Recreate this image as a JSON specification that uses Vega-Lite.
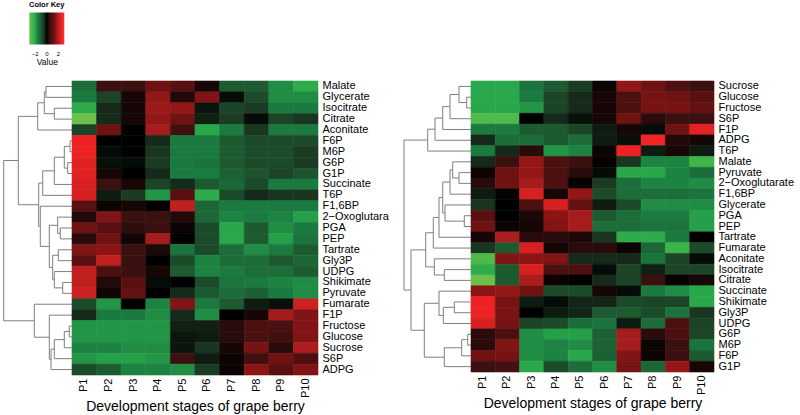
{
"$schema": "https://vega.github.io/schema/vega-lite/v6.json",
"padding": {"left": 2, "top": 0, "right": 0, "bottom": 0},
"background": "white",
"title": {"text": "Color Key", "anchor": "start", "dx": 27, "fontSize": 7.5, "fontWeight": "bold", "offset": 4, "font": "Liberation Sans", "color": "#000"},
"config": {"font": "Liberation Sans", "view": {"stroke": null}, "axis": {"labelColor": "#000", "titleColor": "#000"}, "legend": {"labelColor": "#000", "titleColor": "#000"}},
"datasets": {
"L": [
{"m":"Malate","s":"P1","v":-1.3},{"m":"Malate","s":"P2","v":0.5},{"m":"Malate","s":"P3","v":0.5},{"m":"Malate","s":"P4","v":1.2},{"m":"Malate","s":"P5","v":1.0},{"m":"Malate","s":"P6","v":0.2},{"m":"Malate","s":"P7","v":-1.0},{"m":"Malate","s":"P8","v":-1.0},{"m":"Malate","s":"P9","v":-1.7},{"m":"Malate","s":"P10","v":-2.1},
{"m":"Glycerate","s":"P1","v":-1.5},{"m":"Glycerate","s":"P2","v":-0.7},{"m":"Glycerate","s":"P3","v":0.2},{"m":"Glycerate","s":"P4","v":1.6},{"m":"Glycerate","s":"P5","v":0.3},{"m":"Glycerate","s":"P6","v":1.4},{"m":"Glycerate","s":"P7","v":-0.1},{"m":"Glycerate","s":"P8","v":-0.8},{"m":"Glycerate","s":"P9","v":-1.7},{"m":"Glycerate","s":"P10","v":-1.7},
{"m":"Isocitrate","s":"P1","v":-2.1},{"m":"Isocitrate","s":"P2","v":-0.4},{"m":"Isocitrate","s":"P3","v":0.2},{"m":"Isocitrate","s":"P4","v":1.7},{"m":"Isocitrate","s":"P5","v":1.6},{"m":"Isocitrate","s":"P6","v":-0.2},{"m":"Isocitrate","s":"P7","v":-0.7},{"m":"Isocitrate","s":"P8","v":-0.6},{"m":"Isocitrate","s":"P9","v":-1.5},{"m":"Isocitrate","s":"P10","v":-1.5},
{"m":"Citrate","s":"P1","v":-3.0},{"m":"Citrate","s":"P2","v":-0.4},{"m":"Citrate","s":"P3","v":0.2},{"m":"Citrate","s":"P4","v":1.6},{"m":"Citrate","s":"P5","v":1.2},{"m":"Citrate","s":"P6","v":-0.3},{"m":"Citrate","s":"P7","v":-0.6},{"m":"Citrate","s":"P8","v":-0.1},{"m":"Citrate","s":"P9","v":-0.7},{"m":"Citrate","s":"P10","v":-0.5},
{"m":"Aconitate","s":"P1","v":-0.7},{"m":"Aconitate","s":"P2","v":1.2},{"m":"Aconitate","s":"P3","v":0},{"m":"Aconitate","s":"P4","v":1.8},{"m":"Aconitate","s":"P5","v":0.6},{"m":"Aconitate","s":"P6","v":-2.0},{"m":"Aconitate","s":"P7","v":-1.5},{"m":"Aconitate","s":"P8","v":-0.5},{"m":"Aconitate","s":"P9","v":-1.5},{"m":"Aconitate","s":"P10","v":-1.5},
{"m":"F6P","s":"P1","v":2.5},{"m":"F6P","s":"P2","v":0},{"m":"F6P","s":"P3","v":0},{"m":"F6P","s":"P4","v":-0.4},{"m":"F6P","s":"P5","v":-1.5},{"m":"F6P","s":"P6","v":-1.5},{"m":"F6P","s":"P7","v":-1.0},{"m":"F6P","s":"P8","v":-0.8},{"m":"F6P","s":"P9","v":-0.8},{"m":"F6P","s":"P10","v":-0.8},
{"m":"M6P","s":"P1","v":2.5},{"m":"M6P","s":"P2","v":-0.1},{"m":"M6P","s":"P3","v":0},{"m":"M6P","s":"P4","v":-0.5},{"m":"M6P","s":"P5","v":-1.5},{"m":"M6P","s":"P6","v":-1.5},{"m":"M6P","s":"P7","v":-1.0},{"m":"M6P","s":"P8","v":-0.8},{"m":"M6P","s":"P9","v":-0.8},{"m":"M6P","s":"P10","v":-0.6},
{"m":"G6P","s":"P1","v":2.4},{"m":"G6P","s":"P2","v":-0.15},{"m":"G6P","s":"P3","v":-0.1},{"m":"G6P","s":"P4","v":-0.6},{"m":"G6P","s":"P5","v":-1.5},{"m":"G6P","s":"P6","v":-1.4},{"m":"G6P","s":"P7","v":-1.0},{"m":"G6P","s":"P8","v":-0.8},{"m":"G6P","s":"P9","v":-0.8},{"m":"G6P","s":"P10","v":-0.6},
{"m":"G1P","s":"P1","v":2.4},{"m":"G1P","s":"P2","v":0.2},{"m":"G1P","s":"P3","v":0},{"m":"G1P","s":"P4","v":-0.4},{"m":"G1P","s":"P5","v":-1.5},{"m":"G1P","s":"P6","v":-1.5},{"m":"G1P","s":"P7","v":-1.1},{"m":"G1P","s":"P8","v":-0.9},{"m":"G1P","s":"P9","v":-0.7},{"m":"G1P","s":"P10","v":-0.9},
{"m":"Succinate","s":"P1","v":2.3},{"m":"Succinate","s":"P2","v":0.5},{"m":"Succinate","s":"P3","v":0.2},{"m":"Succinate","s":"P4","v":-0.7},{"m":"Succinate","s":"P5","v":-0.4},{"m":"Succinate","s":"P6","v":-1.0},{"m":"Succinate","s":"P7","v":-1.2},{"m":"Succinate","s":"P8","v":-0.8},{"m":"Succinate","s":"P9","v":-1.5},{"m":"Succinate","s":"P10","v":-1.5},
{"m":"T6P","s":"P1","v":2.3},{"m":"T6P","s":"P2","v":-0.25},{"m":"T6P","s":"P3","v":-0.6},{"m":"T6P","s":"P4","v":-1.8},{"m":"T6P","s":"P5","v":1.0},{"m":"T6P","s":"P6","v":-2.1},{"m":"T6P","s":"P7","v":-0.8},{"m":"T6P","s":"P8","v":-0.4},{"m":"T6P","s":"P9","v":-0.5},{"m":"T6P","s":"P10","v":-0.5},
{"m":"F1,6BP","s":"P1","v":1.0},{"m":"F1,6BP","s":"P2","v":0.1},{"m":"F1,6BP","s":"P3","v":0.2},{"m":"F1,6BP","s":"P4","v":0},{"m":"F1,6BP","s":"P5","v":2.1},{"m":"F1,6BP","s":"P6","v":-1.2},{"m":"F1,6BP","s":"P7","v":-1.5},{"m":"F1,6BP","s":"P8","v":-1.5},{"m":"F1,6BP","s":"P9","v":-1.5},{"m":"F1,6BP","s":"P10","v":-1.5},
{"m":"2−Oxoglutarate","s":"P1","v":0.3},{"m":"2−Oxoglutarate","s":"P2","v":1.4},{"m":"2−Oxoglutarate","s":"P3","v":0.5},{"m":"2−Oxoglutarate","s":"P4","v":0.5},{"m":"2−Oxoglutarate","s":"P5","v":0.3},{"m":"2−Oxoglutarate","s":"P6","v":-1.2},{"m":"2−Oxoglutarate","s":"P7","v":-1.6},{"m":"2−Oxoglutarate","s":"P8","v":-1.5},{"m":"2−Oxoglutarate","s":"P9","v":-1.6},{"m":"2−Oxoglutarate","s":"P10","v":-1.9},
{"m":"PGA","s":"P1","v":1.2},{"m":"PGA","s":"P2","v":1.0},{"m":"PGA","s":"P3","v":0.4},{"m":"PGA","s":"P4","v":0.5},{"m":"PGA","s":"P5","v":0.1},{"m":"PGA","s":"P6","v":-0.8},{"m":"PGA","s":"P7","v":-2.0},{"m":"PGA","s":"P8","v":-1.0},{"m":"PGA","s":"P9","v":-1.7},{"m":"PGA","s":"P10","v":-1.5},
{"m":"PEP","s":"P1","v":0.35},{"m":"PEP","s":"P2","v":1.2},{"m":"PEP","s":"P3","v":0.15},{"m":"PEP","s":"P4","v":1.8},{"m":"PEP","s":"P5","v":0},{"m":"PEP","s":"P6","v":-0.8},{"m":"PEP","s":"P7","v":-2.0},{"m":"PEP","s":"P8","v":-1.0},{"m":"PEP","s":"P9","v":-1.9},{"m":"PEP","s":"P10","v":-1.4},
{"m":"Tartrate","s":"P1","v":1.4},{"m":"Tartrate","s":"P2","v":1.5},{"m":"Tartrate","s":"P3","v":0.5},{"m":"Tartrate","s":"P4","v":0.25},{"m":"Tartrate","s":"P5","v":-1.4},{"m":"Tartrate","s":"P6","v":-0.8},{"m":"Tartrate","s":"P7","v":-1.3},{"m":"Tartrate","s":"P8","v":-1.7},{"m":"Tartrate","s":"P9","v":-1.5},{"m":"Tartrate","s":"P10","v":-1.0},
{"m":"Gly3P","s":"P1","v":1.0},{"m":"Gly3P","s":"P2","v":2.1},{"m":"Gly3P","s":"P3","v":0.5},{"m":"Gly3P","s":"P4","v":0},{"m":"Gly3P","s":"P5","v":-0.8},{"m":"Gly3P","s":"P6","v":-1.6},{"m":"Gly3P","s":"P7","v":-1.3},{"m":"Gly3P","s":"P8","v":-1.3},{"m":"Gly3P","s":"P9","v":-1.0},{"m":"Gly3P","s":"P10","v":-1.2},
{"m":"UDPG","s":"P1","v":2.1},{"m":"UDPG","s":"P2","v":0.8},{"m":"UDPG","s":"P3","v":0.5},{"m":"UDPG","s":"P4","v":0.2},{"m":"UDPG","s":"P5","v":-1.0},{"m":"UDPG","s":"P6","v":-1.6},{"m":"UDPG","s":"P7","v":-1.5},{"m":"UDPG","s":"P8","v":-1.3},{"m":"UDPG","s":"P9","v":-1.3},{"m":"UDPG","s":"P10","v":-1.0},
{"m":"Shikimate","s":"P1","v":2.1},{"m":"Shikimate","s":"P2","v":0.3},{"m":"Shikimate","s":"P3","v":1.0},{"m":"Shikimate","s":"P4","v":-0.1},{"m":"Shikimate","s":"P5","v":0},{"m":"Shikimate","s":"P6","v":-0.8},{"m":"Shikimate","s":"P7","v":-1.4},{"m":"Shikimate","s":"P8","v":-1.5},{"m":"Shikimate","s":"P9","v":-1.6},{"m":"Shikimate","s":"P10","v":-1.7},
{"m":"Pyruvate","s":"P1","v":2.2},{"m":"Pyruvate","s":"P2","v":0.15},{"m":"Pyruvate","s":"P3","v":1.1},{"m":"Pyruvate","s":"P4","v":0},{"m":"Pyruvate","s":"P5","v":-0.4},{"m":"Pyruvate","s":"P6","v":-1.0},{"m":"Pyruvate","s":"P7","v":-1.3},{"m":"Pyruvate","s":"P8","v":-1.1},{"m":"Pyruvate","s":"P9","v":-1.5},{"m":"Pyruvate","s":"P10","v":-1.7},
{"m":"Fumarate","s":"P1","v":-0.8},{"m":"Fumarate","s":"P2","v":-1.8},{"m":"Fumarate","s":"P3","v":0},{"m":"Fumarate","s":"P4","v":-1.6},{"m":"Fumarate","s":"P5","v":1.4},{"m":"Fumarate","s":"P6","v":-1.5},{"m":"Fumarate","s":"P7","v":-1.0},{"m":"Fumarate","s":"P8","v":-0.25},{"m":"Fumarate","s":"P9","v":-0.15},{"m":"Fumarate","s":"P10","v":2.2},
{"m":"F1P","s":"P1","v":-0.4},{"m":"F1P","s":"P2","v":-1.5},{"m":"F1P","s":"P3","v":-1.5},{"m":"F1P","s":"P4","v":-1.7},{"m":"F1P","s":"P5","v":-0.4},{"m":"F1P","s":"P6","v":-1.7},{"m":"F1P","s":"P7","v":0},{"m":"F1P","s":"P8","v":0.2},{"m":"F1P","s":"P9","v":1.8},{"m":"F1P","s":"P10","v":1.4},
{"m":"Fructose","s":"P1","v":-1.8},{"m":"Fructose","s":"P2","v":-1.8},{"m":"Fructose","s":"P3","v":-1.8},{"m":"Fructose","s":"P4","v":-1.8},{"m":"Fructose","s":"P5","v":-0.3},{"m":"Fructose","s":"P6","v":-0.3},{"m":"Fructose","s":"P7","v":0.35},{"m":"Fructose","s":"P8","v":0.8},{"m":"Fructose","s":"P9","v":0.8},{"m":"Fructose","s":"P10","v":1.4},
{"m":"Glucose","s":"P1","v":-1.8},{"m":"Glucose","s":"P2","v":-1.8},{"m":"Glucose","s":"P3","v":-1.8},{"m":"Glucose","s":"P4","v":-1.8},{"m":"Glucose","s":"P5","v":-0.2},{"m":"Glucose","s":"P6","v":-0.25},{"m":"Glucose","s":"P7","v":0.35},{"m":"Glucose","s":"P8","v":0.8},{"m":"Glucose","s":"P9","v":0.6},{"m":"Glucose","s":"P10","v":1.4},
{"m":"Sucrose","s":"P1","v":-1.6},{"m":"Sucrose","s":"P2","v":-1.6},{"m":"Sucrose","s":"P3","v":-1.7},{"m":"Sucrose","s":"P4","v":-1.7},{"m":"Sucrose","s":"P5","v":-0.2},{"m":"Sucrose","s":"P6","v":-0.5},{"m":"Sucrose","s":"P7","v":0.2},{"m":"Sucrose","s":"P8","v":1.3},{"m":"Sucrose","s":"P9","v":0.35},{"m":"Sucrose","s":"P10","v":1.9},
{"m":"S6P","s":"P1","v":-1.8},{"m":"S6P","s":"P2","v":-1.9},{"m":"S6P","s":"P3","v":-1.9},{"m":"S6P","s":"P4","v":-1.8},{"m":"S6P","s":"P5","v":0.5},{"m":"S6P","s":"P6","v":-0.25},{"m":"S6P","s":"P7","v":0.1},{"m":"S6P","s":"P8","v":0.6},{"m":"S6P","s":"P9","v":1.2},{"m":"S6P","s":"P10","v":0.8},
{"m":"ADPG","s":"P1","v":-0.8},{"m":"ADPG","s":"P2","v":-1.0},{"m":"ADPG","s":"P3","v":-1.6},{"m":"ADPG","s":"P4","v":-1.6},{"m":"ADPG","s":"P5","v":-1.7},{"m":"ADPG","s":"P6","v":-0.6},{"m":"ADPG","s":"P7","v":0.1},{"m":"ADPG","s":"P8","v":1.5},{"m":"ADPG","s":"P9","v":1.0},{"m":"ADPG","s":"P10","v":1.4}
],
"R": [
{"m":"Sucrose","s":"P1","v":-2.0},{"m":"Sucrose","s":"P2","v":-2.0},{"m":"Sucrose","s":"P3","v":-1.4},{"m":"Sucrose","s":"P4","v":-1.0},{"m":"Sucrose","s":"P5","v":-0.6},{"m":"Sucrose","s":"P6","v":0.1},{"m":"Sucrose","s":"P7","v":1.6},{"m":"Sucrose","s":"P8","v":1.2},{"m":"Sucrose","s":"P9","v":0.8},{"m":"Sucrose","s":"P10","v":0.55},
{"m":"Glucose","s":"P1","v":-2.0},{"m":"Glucose","s":"P2","v":-2.0},{"m":"Glucose","s":"P3","v":-1.5},{"m":"Glucose","s":"P4","v":-0.7},{"m":"Glucose","s":"P5","v":-0.4},{"m":"Glucose","s":"P6","v":0.2},{"m":"Glucose","s":"P7","v":0.8},{"m":"Glucose","s":"P8","v":1.3},{"m":"Glucose","s":"P9","v":1.2},{"m":"Glucose","s":"P10","v":1.0},
{"m":"Fructose","s":"P1","v":-2.0},{"m":"Fructose","s":"P2","v":-2.0},{"m":"Fructose","s":"P3","v":-1.8},{"m":"Fructose","s":"P4","v":-0.7},{"m":"Fructose","s":"P5","v":-0.4},{"m":"Fructose","s":"P6","v":0.2},{"m":"Fructose","s":"P7","v":0.8},{"m":"Fructose","s":"P8","v":1.3},{"m":"Fructose","s":"P9","v":1.3},{"m":"Fructose","s":"P10","v":1.1},
{"m":"S6P","s":"P1","v":-2.6},{"m":"S6P","s":"P2","v":-2.6},{"m":"S6P","s":"P3","v":0},{"m":"S6P","s":"P4","v":-0.4},{"m":"S6P","s":"P5","v":-0.15},{"m":"S6P","s":"P6","v":0.2},{"m":"S6P","s":"P7","v":1.2},{"m":"S6P","s":"P8","v":0.35},{"m":"S6P","s":"P9","v":0.5},{"m":"S6P","s":"P10","v":0.5},
{"m":"F1P","s":"P1","v":-1.5},{"m":"F1P","s":"P2","v":-1.5},{"m":"F1P","s":"P3","v":-1.0},{"m":"F1P","s":"P4","v":-1.0},{"m":"F1P","s":"P5","v":-0.7},{"m":"F1P","s":"P6","v":-0.25},{"m":"F1P","s":"P7","v":0.2},{"m":"F1P","s":"P8","v":-0.1},{"m":"F1P","s":"P9","v":1.2},{"m":"F1P","s":"P10","v":2.4},
{"m":"ADPG","s":"P1","v":-0.4},{"m":"ADPG","s":"P2","v":-1.3},{"m":"ADPG","s":"P3","v":-1.3},{"m":"ADPG","s":"P4","v":-1.0},{"m":"ADPG","s":"P5","v":-1.3},{"m":"ADPG","s":"P6","v":-0.25},{"m":"ADPG","s":"P7","v":-0.15},{"m":"ADPG","s":"P8","v":2.6},{"m":"ADPG","s":"P9","v":0.3},{"m":"ADPG","s":"P10","v":0.2},
{"m":"T6P","s":"P1","v":-1.5},{"m":"T6P","s":"P2","v":-0.4},{"m":"T6P","s":"P3","v":0.35},{"m":"T6P","s":"P4","v":-1.8},{"m":"T6P","s":"P5","v":-1.6},{"m":"T6P","s":"P6","v":0.1},{"m":"T6P","s":"P7","v":2.5},{"m":"T6P","s":"P8","v":-0.25},{"m":"T6P","s":"P9","v":0.2},{"m":"T6P","s":"P10","v":-0.25},
{"m":"Malate","s":"P1","v":-0.4},{"m":"Malate","s":"P2","v":0.55},{"m":"Malate","s":"P3","v":1.6},{"m":"Malate","s":"P4","v":0.8},{"m":"Malate","s":"P5","v":0.55},{"m":"Malate","s":"P6","v":0.05},{"m":"Malate","s":"P7","v":-0.5},{"m":"Malate","s":"P8","v":-1.6},{"m":"Malate","s":"P9","v":-1.6},{"m":"Malate","s":"P10","v":-2.4},
{"m":"Pyruvate","s":"P1","v":0.1},{"m":"Pyruvate","s":"P2","v":1.2},{"m":"Pyruvate","s":"P3","v":1.6},{"m":"Pyruvate","s":"P4","v":0.8},{"m":"Pyruvate","s":"P5","v":0.35},{"m":"Pyruvate","s":"P6","v":-0.1},{"m":"Pyruvate","s":"P7","v":-2.0},{"m":"Pyruvate","s":"P8","v":-2.0},{"m":"Pyruvate","s":"P9","v":-1.6},{"m":"Pyruvate","s":"P10","v":-1.3},
{"m":"2−Oxoglutarate","s":"P1","v":0.35},{"m":"2−Oxoglutarate","s":"P2","v":1.2},{"m":"2−Oxoglutarate","s":"P3","v":1.8},{"m":"2−Oxoglutarate","s":"P4","v":0.8},{"m":"2−Oxoglutarate","s":"P5","v":0.05},{"m":"2−Oxoglutarate","s":"P6","v":-0.6},{"m":"2−Oxoglutarate","s":"P7","v":-1.3},{"m":"2−Oxoglutarate","s":"P8","v":-1.6},{"m":"2−Oxoglutarate","s":"P9","v":-1.6},{"m":"2−Oxoglutarate","s":"P10","v":-1.7},
{"m":"F1,6BP","s":"P1","v":-0.25},{"m":"F1,6BP","s":"P2","v":0.05},{"m":"F1,6BP","s":"P3","v":2.3},{"m":"F1,6BP","s":"P4","v":0.2},{"m":"F1,6BP","s":"P5","v":1.6},{"m":"F1,6BP","s":"P6","v":-0.8},{"m":"F1,6BP","s":"P7","v":-1.3},{"m":"F1,6BP","s":"P8","v":-1.3},{"m":"F1,6BP","s":"P9","v":-1.3},{"m":"F1,6BP","s":"P10","v":-1.4},
{"m":"Glycerate","s":"P1","v":-0.5},{"m":"Glycerate","s":"P2","v":0},{"m":"Glycerate","s":"P3","v":0.8},{"m":"Glycerate","s":"P4","v":2.3},{"m":"Glycerate","s":"P5","v":1.1},{"m":"Glycerate","s":"P6","v":-0.25},{"m":"Glycerate","s":"P7","v":-0.8},{"m":"Glycerate","s":"P8","v":-1.7},{"m":"Glycerate","s":"P9","v":-1.7},{"m":"Glycerate","s":"P10","v":-1.7},
{"m":"PGA","s":"P1","v":1.0},{"m":"PGA","s":"P2","v":0},{"m":"PGA","s":"P3","v":0.25},{"m":"PGA","s":"P4","v":1.5},{"m":"PGA","s":"P5","v":1.8},{"m":"PGA","s":"P6","v":-1.0},{"m":"PGA","s":"P7","v":-1.3},{"m":"PGA","s":"P8","v":-1.5},{"m":"PGA","s":"P9","v":-1.5},{"m":"PGA","s":"P10","v":-1.9},
{"m":"PEP","s":"P1","v":1.2},{"m":"PEP","s":"P2","v":0.1},{"m":"PEP","s":"P3","v":0.2},{"m":"PEP","s":"P4","v":1.4},{"m":"PEP","s":"P5","v":1.8},{"m":"PEP","s":"P6","v":-1.3},{"m":"PEP","s":"P7","v":-1.3},{"m":"PEP","s":"P8","v":-1.4},{"m":"PEP","s":"P9","v":-1.4},{"m":"PEP","s":"P10","v":-1.9},
{"m":"Tartrate","s":"P1","v":0.2},{"m":"Tartrate","s":"P2","v":1.9},{"m":"Tartrate","s":"P3","v":0.35},{"m":"Tartrate","s":"P4","v":0.35},{"m":"Tartrate","s":"P5","v":0.25},{"m":"Tartrate","s":"P6","v":-0.5},{"m":"Tartrate","s":"P7","v":-2.1},{"m":"Tartrate","s":"P8","v":-2.1},{"m":"Tartrate","s":"P9","v":-1.5},{"m":"Tartrate","s":"P10","v":0},
{"m":"Fumarate","s":"P1","v":-0.5},{"m":"Fumarate","s":"P2","v":-1.0},{"m":"Fumarate","s":"P3","v":2.3},{"m":"Fumarate","s":"P4","v":0.2},{"m":"Fumarate","s":"P5","v":0.35},{"m":"Fumarate","s":"P6","v":0.35},{"m":"Fumarate","s":"P7","v":0.1},{"m":"Fumarate","s":"P8","v":-1.2},{"m":"Fumarate","s":"P9","v":-2.3},{"m":"Fumarate","s":"P10","v":-0.8},
{"m":"Aconitate","s":"P1","v":-2.6},{"m":"Aconitate","s":"P2","v":1.4},{"m":"Aconitate","s":"P3","v":1.5},{"m":"Aconitate","s":"P4","v":1.4},{"m":"Aconitate","s":"P5","v":-0.4},{"m":"Aconitate","s":"P6","v":-0.4},{"m":"Aconitate","s":"P7","v":-0.4},{"m":"Aconitate","s":"P8","v":-1.4},{"m":"Aconitate","s":"P9","v":-0.7},{"m":"Aconitate","s":"P10","v":-0.1},
{"m":"Isocitrate","s":"P1","v":-2.1},{"m":"Isocitrate","s":"P2","v":-1.0},{"m":"Isocitrate","s":"P3","v":2.3},{"m":"Isocitrate","s":"P4","v":0.8},{"m":"Isocitrate","s":"P5","v":0.8},{"m":"Isocitrate","s":"P6","v":-0.1},{"m":"Isocitrate","s":"P7","v":-0.7},{"m":"Isocitrate","s":"P8","v":-0.3},{"m":"Isocitrate","s":"P9","v":-0.7},{"m":"Isocitrate","s":"P10","v":-0.7},
{"m":"Citrate","s":"P1","v":-3.0},{"m":"Citrate","s":"P2","v":-1.0},{"m":"Citrate","s":"P3","v":1.9},{"m":"Citrate","s":"P4","v":0.1},{"m":"Citrate","s":"P5","v":0},{"m":"Citrate","s":"P6","v":-0.4},{"m":"Citrate","s":"P7","v":-0.7},{"m":"Citrate","s":"P8","v":0.5},{"m":"Citrate","s":"P9","v":0.05},{"m":"Citrate","s":"P10","v":0.2},
{"m":"Succinate","s":"P1","v":1.5},{"m":"Succinate","s":"P2","v":1.6},{"m":"Succinate","s":"P3","v":1.2},{"m":"Succinate","s":"P4","v":-0.8},{"m":"Succinate","s":"P5","v":-0.8},{"m":"Succinate","s":"P6","v":0.2},{"m":"Succinate","s":"P7","v":-0.1},{"m":"Succinate","s":"P8","v":-1.5},{"m":"Succinate","s":"P9","v":-1.7},{"m":"Succinate","s":"P10","v":-2.0},
{"m":"Shikimate","s":"P1","v":2.5},{"m":"Shikimate","s":"P2","v":1.3},{"m":"Shikimate","s":"P3","v":-0.25},{"m":"Shikimate","s":"P4","v":-0.1},{"m":"Shikimate","s":"P5","v":-0.35},{"m":"Shikimate","s":"P6","v":-0.35},{"m":"Shikimate","s":"P7","v":-0.8},{"m":"Shikimate","s":"P8","v":-0.7},{"m":"Shikimate","s":"P9","v":-0.7},{"m":"Shikimate","s":"P10","v":-2.0},
{"m":"Gly3P","s":"P1","v":2.5},{"m":"Gly3P","s":"P2","v":1.3},{"m":"Gly3P","s":"P3","v":0},{"m":"Gly3P","s":"P4","v":-0.25},{"m":"Gly3P","s":"P5","v":-0.35},{"m":"Gly3P","s":"P6","v":-1.0},{"m":"Gly3P","s":"P7","v":-1.0},{"m":"Gly3P","s":"P8","v":-0.8},{"m":"Gly3P","s":"P9","v":-1.4},{"m":"Gly3P","s":"P10","v":-0.5},
{"m":"UDPG","s":"P1","v":2.3},{"m":"UDPG","s":"P2","v":1.3},{"m":"UDPG","s":"P3","v":-0.7},{"m":"UDPG","s":"P4","v":-0.8},{"m":"UDPG","s":"P5","v":-1.3},{"m":"UDPG","s":"P6","v":-1.4},{"m":"UDPG","s":"P7","v":-0.25},{"m":"UDPG","s":"P8","v":-1.3},{"m":"UDPG","s":"P9","v":0.8},{"m":"UDPG","s":"P10","v":-0.7},
{"m":"G6P","s":"P1","v":0.35},{"m":"G6P","s":"P2","v":0.8},{"m":"G6P","s":"P3","v":-1.7},{"m":"G6P","s":"P4","v":-1.9},{"m":"G6P","s":"P5","v":-1.9},{"m":"G6P","s":"P6","v":-1.1},{"m":"G6P","s":"P7","v":1.8},{"m":"G6P","s":"P8","v":0.35},{"m":"G6P","s":"P9","v":0.8},{"m":"G6P","s":"P10","v":-0.7},
{"m":"M6P","s":"P1","v":0.35},{"m":"M6P","s":"P2","v":1.4},{"m":"M6P","s":"P3","v":-1.7},{"m":"M6P","s":"P4","v":-1.6},{"m":"M6P","s":"P5","v":-1.7},{"m":"M6P","s":"P6","v":-1.1},{"m":"M6P","s":"P7","v":1.8},{"m":"M6P","s":"P8","v":0.1},{"m":"M6P","s":"P9","v":0.5},{"m":"M6P","s":"P10","v":-1.4},
{"m":"F6P","s":"P1","v":1.2},{"m":"F6P","s":"P2","v":1.3},{"m":"F6P","s":"P3","v":-1.7},{"m":"F6P","s":"P4","v":-1.6},{"m":"F6P","s":"P5","v":-2.0},{"m":"F6P","s":"P6","v":-1.1},{"m":"F6P","s":"P7","v":1.4},{"m":"F6P","s":"P8","v":0.1},{"m":"F6P","s":"P9","v":0.55},{"m":"F6P","s":"P10","v":-1.0},
{"m":"G1P","s":"P1","v":0.5},{"m":"G1P","s":"P2","v":0.7},{"m":"G1P","s":"P3","v":-2.0},{"m":"G1P","s":"P4","v":-0.8},{"m":"G1P","s":"P5","v":-1.3},{"m":"G1P","s":"P6","v":-1.7},{"m":"G1P","s":"P7","v":1.3},{"m":"G1P","s":"P8","v":-1.2},{"m":"G1P","s":"P9","v":1.6},{"m":"G1P","s":"P10","v":0.2}
],
"dL": [
{"h":26,"ya":0,"ha":0,"yb":1,"hb":0},
{"h":17.7,"ya":2,"ha":0,"yb":3,"hb":0},
{"h":27.7,"ya":0.5,"ha":26,"yb":2.5,"hb":17.7},
{"h":34.3,"ya":1.5,"ha":27.7,"yb":4,"hb":0},
{"h":2,"ya":5,"ha":0,"yb":6,"hb":0},
{"h":4.3,"ya":7,"ha":0,"yb":8,"hb":0},
{"h":7.7,"ya":5.5,"ha":2,"yb":7.5,"hb":4.3},
{"h":17.7,"ya":6.5,"ha":7.7,"yb":9,"hb":0},
{"h":29.3,"ya":7.75,"ha":17.7,"yb":10,"hb":0},
{"h":11.7,"ya":13,"ha":0,"yb":14,"hb":0},
{"h":14.3,"ya":12,"ha":0,"yb":13.5,"hb":11.7},
{"h":13.7,"ya":15,"ha":0,"yb":16,"hb":0},
{"h":9.3,"ya":18,"ha":0,"yb":19,"hb":0},
{"h":17.7,"ya":17,"ha":0,"yb":18.5,"hb":9.3},
{"h":19.3,"ya":15.5,"ha":13.7,"yb":17.75,"hb":17.7},
{"h":22.7,"ya":12.75,"ha":14.3,"yb":16.625,"hb":19.3},
{"h":31.7,"ya":11,"ha":0,"yb":14.69,"hb":22.7},
{"h":33.3,"ya":8.875,"ha":29.3,"yb":12.84,"hb":31.7},
{"h":53.7,"ya":2.75,"ha":34.3,"yb":10.86,"hb":33.3},
{"h":2.7,"ya":22,"ha":0,"yb":23,"hb":0},
{"h":7.7,"ya":22.5,"ha":2.7,"yb":24,"hb":0},
{"h":17.7,"ya":23.25,"ha":7.7,"yb":25,"hb":0},
{"h":21,"ya":24.125,"ha":17.7,"yb":26,"hb":0},
{"h":22.7,"ya":21,"ha":0,"yb":25.06,"hb":21},
{"h":37.7,"ya":20,"ha":0,"yb":23.03,"hb":22.7},
{"h":68.3,"ya":6.8,"ha":53.7,"yb":21.52,"hb":37.7}
],
"dR": [
{"h":4.3,"ya":1,"ha":0,"yb":2,"hb":0},
{"h":12,"ya":0,"ha":0,"yb":1.5,"hb":4.3},
{"h":21,"ya":0.75,"ha":12,"yb":3,"hb":0},
{"h":28.3,"ya":1.875,"ha":21,"yb":4,"hb":0},
{"h":36,"ya":2.94,"ha":28.3,"yb":5,"hb":0},
{"h":43.3,"ya":3.97,"ha":36,"yb":6,"hb":0},
{"h":12,"ya":8,"ha":0,"yb":9,"hb":0},
{"h":18.3,"ya":7,"ha":0,"yb":8.5,"hb":12},
{"h":21,"ya":7.75,"ha":18.3,"yb":10,"hb":0},
{"h":6.7,"ya":12,"ha":0,"yb":13,"hb":0},
{"h":26,"ya":11,"ha":0,"yb":12.5,"hb":6.7},
{"h":28.3,"ya":8.875,"ha":21,"yb":11.75,"hb":26},
{"h":32,"ya":10.31,"ha":28.3,"yb":14,"hb":0},
{"h":37.7,"ya":12.16,"ha":32,"yb":15,"hb":0},
{"h":26.7,"ya":17,"ha":0,"yb":18,"hb":0},
{"h":36.7,"ya":16,"ha":0,"yb":17.5,"hb":26.7},
{"h":45.3,"ya":13.58,"ha":37.7,"yb":16.75,"hb":36.7},
{"h":16.7,"ya":20,"ha":0,"yb":21,"hb":0},
{"h":27.7,"ya":20.5,"ha":16.7,"yb":22,"hb":0},
{"h":32,"ya":19,"ha":0,"yb":21.25,"hb":27.7},
{"h":3.3,"ya":23,"ha":0,"yb":24,"hb":0},
{"h":9.3,"ya":23.5,"ha":3.3,"yb":25,"hb":0},
{"h":26.7,"ya":24.25,"ha":9.3,"yb":26,"hb":0},
{"h":46.7,"ya":20.125,"ha":32,"yb":25.125,"hb":26.7},
{"h":60,"ya":15.17,"ha":45.3,"yb":22.625,"hb":46.7},
{"h":67,"ya":4.98,"ha":43.3,"yb":18.9,"hb":60}
]
},
"bounds": "flush",
"spacing": 0,
"resolve": {"scale": {"color": "shared", "stroke": "shared"}, "legend": {"color": "shared", "stroke": "independent"}},
"hconcat": [
{
"width": 70, "height": 294,
"data": {"name": "dL"},
"layer": [
{"mark": {"type": "rule", "color": "#7f7f7f", "strokeWidth": 1},
 "encoding": {"x": {"field": "h", "type": "quantitative", "scale": {"domain": [70, 0], "nice": false, "zero": false}, "axis": null},
  "y": {"field": "ya", "type": "quantitative", "scale": {"domain": [-0.5, 26.5], "reverse": true, "nice": false, "zero": false}, "axis": null},
  "y2": {"field": "yb"}}},
{"mark": {"type": "rule", "color": "#7f7f7f", "strokeWidth": 1},
 "encoding": {"x": {"field": "h", "type": "quantitative"}, "x2": {"field": "ha"},
  "y": {"field": "ya", "type": "quantitative"}}},
{"mark": {"type": "rule", "color": "#7f7f7f", "strokeWidth": 1},
 "encoding": {"x": {"field": "h", "type": "quantitative"}, "x2": {"field": "hb"},
  "y": {"field": "yb", "type": "quantitative"}}}
]
},
{
"width": 246, "height": 294,
"data": {"name": "L"},
"mark": {"type": "rect", "strokeWidth": 0.6},
"encoding": {
 "x": {"field": "s", "type": "nominal", "sort": ["P1","P2","P3","P4","P5","P6","P7","P8","P9","P10"], "scale": {"paddingInner": 0, "paddingOuter": 0},
  "axis": {"title": "Development stages of grape berry", "labelAngle": 270, "ticks": false, "domain": false, "labelFontSize": 11, "titleFontSize": 14, "titleFontWeight": "normal", "labelPadding": 3, "titlePadding": 2}},
 "y": {"field": "m", "type": "nominal", "sort": ["Malate","Glycerate","Isocitrate","Citrate","Aconitate","F6P","M6P","G6P","G1P","Succinate","T6P","F1,6BP","2−Oxoglutarate","PGA","PEP","Tartrate","Gly3P","UDPG","Shikimate","Pyruvate","Fumarate","F1P","Fructose","Glucose","Sucrose","S6P","ADPG"],
  "scale": {"paddingInner": 0, "paddingOuter": 0},
  "axis": {"orient": "right", "title": null, "ticks": false, "domain": false, "labelFontSize": 11, "labelPadding": 4, "labelExpr": "datum.label == '2−Oxoglutarate' ? '2−Oxoglutara' : datum.label"}},
 "color": {"field": "v", "type": "quantitative",
  "scale": {"type": "linear", "interpolate": "rgb", "domain": [-3,-2.5,-2,-1.5,-1,-0.5,0,0.5,1,1.5,2,2.5,3], "range": ["#6cc04a","#48b84a","#28a84a","#1a7a40","#1e5a30","#1a3520","#000000","#3a1010","#5a1010","#8b1515","#b42020","#ee2222","#ff3030"]},
  "legend": {"type": "gradient", "orient": "none", "legendX": 27.3, "legendY": -68.6, "direction": "horizontal", "gradientLength": 35, "gradientThickness": 32, "title": "Value", "titleOrient": "bottom", "titleAnchor": "middle", "titleFontSize": 8.5, "titleFontWeight": "normal", "labelFontSize": 6, "values": [-2, 0, 2], "labelOffset": 7, "titlePadding": 1}},
 "stroke": {"field": "v", "type": "quantitative", "legend": null,
  "scale": {"type": "linear", "interpolate": "rgb", "domain": [-3,-2.5,-2,-1.5,-1,-0.5,0,0.5,1,1.5,2,2.5,3], "range": ["#6cc04a","#48b84a","#28a84a","#1a7a40","#1e5a30","#1a3520","#000000","#3a1010","#5a1010","#8b1515","#b42020","#ee2222","#ff3030"]}}
}
},
{
"width": 153, "height": 291,
"data": {"name": "dR"},
"layer": [
{"mark": {"type": "rule", "color": "#7f7f7f", "strokeWidth": 1},
 "encoding": {"x": {"field": "h", "type": "quantitative", "scale": {"domain": [153, 0], "nice": false, "zero": false}, "axis": null},
  "y": {"field": "ya", "type": "quantitative", "scale": {"domain": [-0.5, 26.5], "reverse": true, "nice": false, "zero": false}, "axis": null},
  "y2": {"field": "yb"}}},
{"mark": {"type": "rule", "color": "#7f7f7f", "strokeWidth": 1},
 "encoding": {"x": {"field": "h", "type": "quantitative"}, "x2": {"field": "ha"},
  "y": {"field": "ya", "type": "quantitative"}}},
{"mark": {"type": "rule", "color": "#7f7f7f", "strokeWidth": 1},
 "encoding": {"x": {"field": "h", "type": "quantitative"}, "x2": {"field": "hb"},
  "y": {"field": "yb", "type": "quantitative"}}}
]
},
{
"width": 243, "height": 291,
"data": {"name": "R"},
"mark": {"type": "rect", "strokeWidth": 0.6},
"encoding": {
 "x": {"field": "s", "type": "nominal", "sort": ["P1","P2","P3","P4","P5","P6","P7","P8","P9","P10"], "scale": {"paddingInner": 0, "paddingOuter": 0},
  "axis": {"title": "Development stages of grape berry", "labelAngle": 270, "ticks": false, "domain": false, "labelFontSize": 11, "titleFontSize": 14, "titleFontWeight": "normal", "labelPadding": 3, "titlePadding": 2}},
 "y": {"field": "m", "type": "nominal", "sort": ["Sucrose","Glucose","Fructose","S6P","F1P","ADPG","T6P","Malate","Pyruvate","2−Oxoglutarate","F1,6BP","Glycerate","PGA","PEP","Tartrate","Fumarate","Aconitate","Isocitrate","Citrate","Succinate","Shikimate","Gly3P","UDPG","G6P","M6P","F6P","G1P"],
  "scale": {"paddingInner": 0, "paddingOuter": 0},
  "axis": {"orient": "right", "title": null, "ticks": false, "domain": false, "labelFontSize": 11, "labelPadding": 4}},
 "color": {"field": "v", "type": "quantitative",
  "scale": {"type": "linear", "interpolate": "rgb", "domain": [-3,-2.5,-2,-1.5,-1,-0.5,0,0.5,1,1.5,2,2.5,3], "range": ["#6cc04a","#48b84a","#28a84a","#1a7a40","#1e5a30","#1a3520","#000000","#3a1010","#5a1010","#8b1515","#b42020","#ee2222","#ff3030"]},
  "legend": {"type": "gradient", "orient": "none", "legendX": 27.3, "legendY": -68.6, "direction": "horizontal", "gradientLength": 35, "gradientThickness": 32, "title": "Value", "titleOrient": "bottom", "titleAnchor": "middle", "titleFontSize": 8.5, "titleFontWeight": "normal", "labelFontSize": 6, "values": [-2, 0, 2], "labelOffset": 7, "titlePadding": 1}},
 "stroke": {"field": "v", "type": "quantitative", "legend": null,
  "scale": {"type": "linear", "interpolate": "rgb", "domain": [-3,-2.5,-2,-1.5,-1,-0.5,0,0.5,1,1.5,2,2.5,3], "range": ["#6cc04a","#48b84a","#28a84a","#1a7a40","#1e5a30","#1a3520","#000000","#3a1010","#5a1010","#8b1515","#b42020","#ee2222","#ff3030"]}}
}
}
]
}
